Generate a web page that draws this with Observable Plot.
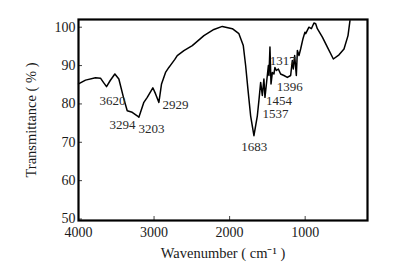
<!DOCTYPE html>
<html><head><meta charset="utf-8">
<script src="https://cdn.jsdelivr.net/npm/d3@7"></script>
<script src="https://cdn.jsdelivr.net/npm/@observablehq/plot@0.6"></script>
<style>
body{margin:0;background:#fff}
svg{font-family:"Liberation Serif","DejaVu Serif",serif}
</style>
</head><body><div id="chart"></div>
<script>
// FTIR spectrum
const wavenumber = [4000,3907,3775,3709,3670,3629,3580,3519,3466,3400,3355,3289,3223,3201,3135,3090,3016,2980,2936,2901,2848,2804,2781,2725,2693,2605,2494,2340,2208,2097,1964,1877,1819,1788,1758,1722,1678,1633,1612,1589,1567,1546,1532,1515,1487,1479,1466,1452,1434,1413,1400,1381,1355,1325,1281,1236,1192,1170,1157,1139,1117,1103,1082,1060,1029,1003,993,950,918,884,861,839,772,706,627,552,486,433,407];
const transmittance = [85.6,86.6,87.2,87.1,86.0,84.9,86.5,88.2,86.9,81.7,78.6,78.2,77.3,76.9,80.8,82.1,84.6,83.0,80.8,85.6,88.6,89.9,90.5,92.0,93.0,94.3,95.6,98.2,99.8,100.6,100.0,98.7,95.6,90.4,84.3,77.3,72.1,77.3,81.3,86.0,82.6,86.9,82.1,85.2,90.4,87.8,95.2,85.6,88.6,88.2,89.9,89.1,89.5,88.2,87.8,87.3,87.8,91.7,89.5,93.0,87.8,94.3,93.0,94.7,97.4,99.1,98.7,100.4,100.0,101.5,101.3,100.0,97.8,95.2,92.1,93.2,94.7,98.2,102.1];

const peakLabels = ["3620","3294","3203","2929","1683","1537","1454","1396","1317"];
const peakLabelX = [3550,3417,3033,2715,1675,1391,1347,1205,1298];
const peakLabelY = [81.2,74.9,73.8,80.1,69.3,77.8,81.3,84.9,91.7];

const xTicks = [4000,3000,2000,1000];
const yTicks = [50,60,70,80,90,100];
const xTitle = "Wavenumber ( cm\u207B\u00B9 )";
const yTitle = "Transmittance ( % )";

const spectrum = wavenumber.map((w, i) => ({w, t: transmittance[i]}));
const peaks = peakLabels.map((l, i) => ({l, x: peakLabelX[i], y: peakLabelY[i]}));

const chart = Plot.plot({
  width: 393, height: 279,
  marginLeft: 78, marginRight: 26, marginTop: 19, marginBottom: 59,
  style: {fontFamily: "Liberation Serif, serif", background: "#fff", color: "#1a1a1a"},
  x: {domain: [4000, 175], label: null},
  y: {domain: [50, 102.4], label: null},
  marks: [
    Plot.axisX(xTicks, {tickSize: -4, tickPadding: 11, fontSize: 14, stroke: "#444", tickFormat: d => String(d)}),
    Plot.axisY(yTicks, {tickSize: -4, tickPadding: 7, dy: -1.5, fontSize: 14, stroke: "#444", tickFormat: d => String(d)}),
    Plot.line(spectrum, {x: "w", y: "t", stroke: "#000", strokeWidth: 1.5}),
    Plot.text(peaks, {x: "x", y: "y", text: "l", fontSize: 13, fill: "#2a2a2a"}),
    Plot.frame({stroke: "#000", strokeWidth: 2.2}),
    Plot.text([yTitle], {frameAnchor: "left", textAnchor: "middle", dx: -47, rotate: -90, fontSize: 14.5, fill: "#1a1a1a"}),
    Plot.text([xTitle], {frameAnchor: "bottom", textAnchor: "middle", dy: 37, fontSize: 14.5, fill: "#1a1a1a"})
  ]
});
document.getElementById("chart").append(chart);
</script>
</body></html>
